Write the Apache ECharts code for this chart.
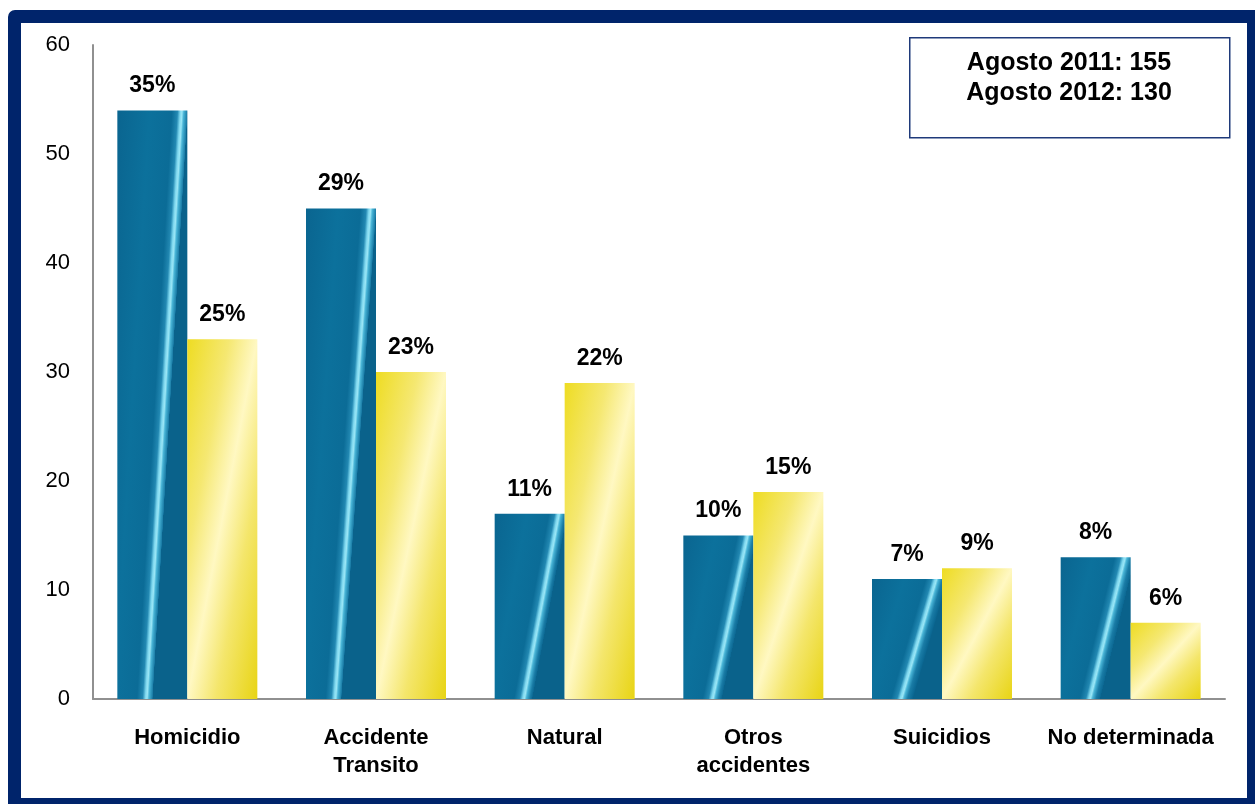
<!DOCTYPE html>
<html>
<head>
<meta charset="utf-8">
<script src="https://cdn.jsdelivr.net/npm/echarts@6/dist/echarts.min.js"></script>
<style>
html,body{margin:0;padding:0;background:#fff;overflow:hidden;}
#frame{position:absolute;left:8px;top:10px;width:1252px;height:801px;box-sizing:border-box;border:13px solid #00246b;border-top-left-radius:7px;}
#chart{position:absolute;left:0;top:0;width:1255px;height:804px;}
</style>
</head>
<body>
<div id="frame"></div>
<div id="chart"></div>
<script>
const categories = ['Homicidio', 'Accidente\nTransito', 'Natural', 'Otros\naccidentes', 'Suicidios', 'No determinada'];
const values2011 = [54, 45, 17, 15, 11, 13];
const values2012 = [33, 30, 29, 19, 12, 7];
const pct2011 = ['35%', '29%', '11%', '10%', '7%', '8%'];
const pct2012 = ['25%', '23%', '22%', '15%', '9%', '6%'];
const yTicks = [0, 10, 20, 30, 40, 50, 60];
const summaryLines = ['Agosto 2011: 155', 'Agosto 2012: 130'];

const chart = echarts.init(document.getElementById('chart'));
const font = 'Liberation Sans, Arial, sans-serif';

const BAR_W = 70;
const PLOT_H = 804 - 45 - 105;
const Y_MAX = yTicks[yTicks.length - 1];

// blue "picture" fill: a light streak running from the top-right to the lower-middle of each bar
function blueFill(v) {
  const h = Math.max(v * PLOT_H / Y_MAX, 1);
  const a = 0.5, x0 = 0.92;
  const y2 = a * BAR_W * BAR_W / (h * h);
  const s = x0 / (1 + Math.pow(a * BAR_W / h, 2));
  const cl = t => Math.min(1, Math.max(0, t));
  return new echarts.graphic.LinearGradient(0, 0, 1, y2, [
    {offset: 0, color: '#0a6590'},
    {offset: cl(s * 0.5), color: '#0c719c'},
    {offset: cl(s - 0.14), color: '#0b6c97'},
    {offset: cl(s - 0.06), color: '#2288b2'},
    {offset: cl(s - 0.02), color: '#7fd8ef'},
    {offset: cl(s + 0.005), color: '#9ae6f6'},
    {offset: cl(s + 0.03), color: '#48b4d6'},
    {offset: cl(s + 0.08), color: '#1a7ca6'},
    {offset: cl(s + 0.14), color: '#0b6893'},
    {offset: 1, color: '#0a628b'}
  ]);
}
// yellow "conic" fill: bright at top-left and bottom-right, pale along the other diagonal
function yellowFill(v) {
  const h = Math.max(v * PLOT_H / Y_MAX, 1);
  const r = BAR_W / h;
  const f = 1 / (1 + r * r);
  return new echarts.graphic.LinearGradient(0, 0, 2, 2 * r * r, [
    {offset: 0, color: '#eedc22'},
    {offset: f * 0.3, color: '#f5e872'},
    {offset: f * 0.5, color: '#fff8c2'},
    {offset: f * 0.7, color: '#f4e66c'},
    {offset: f, color: '#e8d414'},
    {offset: 1, color: '#e8d414'}
  ]);
}

const labelStyle = {show: true, position: 'top', distance: 13, color: '#000', fontFamily: font, fontWeight: 'bold', fontSize: 23};

chart.setOption({
  animation: false,
  grid: {left: 93, right: 30, top: 45, bottom: 105, containLabel: false},
  xAxis: {
    type: 'category',
    data: categories,
    axisLine: {lineStyle: {color: '#909090', width: 2}},
    axisTick: {show: false},
    axisLabel: {color: '#000', fontFamily: font, fontWeight: 'bold', fontSize: 22, lineHeight: 28, margin: 25, interval: 0}
  },
  yAxis: {
    type: 'value',
    min: yTicks[0], max: Y_MAX, interval: 10,
    axisLine: {show: true, lineStyle: {color: '#909090', width: 2}},
    axisTick: {show: false},
    splitLine: {show: false},
    axisLabel: {color: '#000', fontFamily: font, fontSize: 22, margin: 23}
  },
  series: [
    {
      type: 'bar', barWidth: BAR_W, barGap: '0%',
      data: values2011.map(v => ({value: v, itemStyle: {color: blueFill(v)}})),
      label: Object.assign({formatter: p => pct2011[p.dataIndex]}, labelStyle)
    },
    {
      type: 'bar', barWidth: BAR_W,
      data: values2012.map(v => ({value: v, itemStyle: {color: yellowFill(v)}})),
      label: Object.assign({formatter: p => pct2012[p.dataIndex]}, labelStyle)
    }
  ],
  graphic: [
    {type: 'rect', left: 909, top: 37, shape: {width: 320, height: 100}, style: {fill: '#fff', stroke: '#1f3a7a', lineWidth: 1.5}},
    {type: 'text', x: 1069, y: 63, style: {text: summaryLines[0], fill: '#000', font: 'bold 25px ' + font, align: 'center', verticalAlign: 'middle'}},
    {type: 'text', x: 1069, y: 93, style: {text: summaryLines[1], fill: '#000', font: 'bold 25px ' + font, align: 'center', verticalAlign: 'middle'}}
  ]
});
</script>
</body>
</html>
